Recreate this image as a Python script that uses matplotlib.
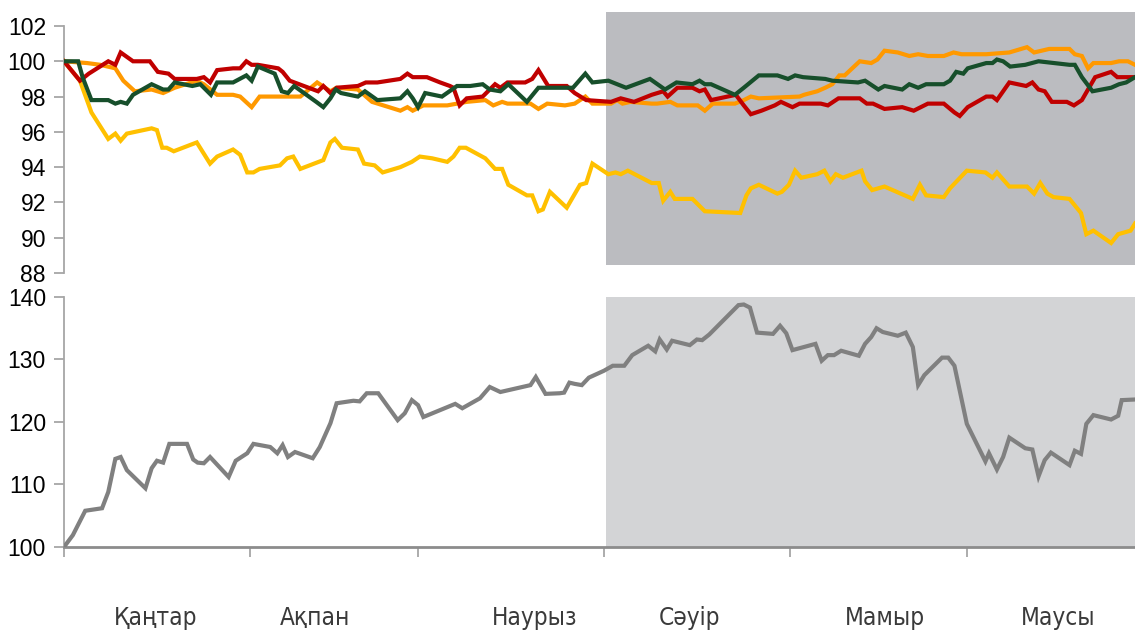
import matplotlib
matplotlib.use("Agg")
import matplotlib.pyplot as plt
from matplotlib.patches import Rectangle

# ---- data (x = trading-day index from 1 Jan, y = index values) ----
months = ["Қаңтар", "Ақпан", "Наурыз", "Сәуір", "Мамыр", "Маусы"]
month_starts = [0, 21, 40, 61, 82, 102]
month_label_pos = [10.3, 28.4, 53.2, 70.7, 92.8, 112.3]
top_ticks = [88, 90, 92, 94, 96, 98, 100, 102]
bottom_ticks = [100, 110, 120, 130, 140]

gold_x = [0.0, 1.8, 3.1, 5.0, 5.8, 6.4, 7.1, 9.9, 10.5, 11.1, 11.6, 12.4, 15.0, 16.5, 17.3, 19.1, 19.9, 20.7,
          21.4, 22.1, 24.4, 25.2, 25.9, 26.7, 29.3, 30.1, 30.6, 31.4, 33.2, 33.9, 35.1, 36.0, 38.0, 39.3,
          40.2, 41.6, 43.3, 44.0, 44.7, 45.4, 47.6, 48.7, 49.5, 50.2, 52.3, 52.9, 53.6, 54.1, 54.9, 56.8,
          58.3, 59.0, 59.7, 61.5, 62.3, 62.9, 63.7, 66.4, 67.2, 67.7, 68.5, 69.0, 71.0, 72.4, 76.4, 77.1,
          77.6, 78.5, 80.6, 81.1, 81.9, 82.6, 83.3, 85.1, 85.9, 86.6, 87.2, 88.0, 90.1, 90.5, 91.3, 92.7,
          95.9, 96.7, 97.4, 99.4, 100.1, 102.0, 104.1, 104.9, 105.4, 106.8, 108.8, 109.6, 110.3, 111.1,
          111.8, 113.6, 114.9, 115.5, 116.3, 118.3, 119.1, 120.5, 121.0]
gold_y = [100.0, 98.9, 97.1, 95.6, 95.9, 95.5, 95.9, 96.2, 96.1, 95.1, 95.1, 94.9, 95.4, 94.2, 94.6, 95.0, 94.7, 93.7,
          93.7, 93.9, 94.1, 94.5, 94.6, 93.9, 94.4, 95.4, 95.6, 95.1, 95.0, 94.2, 94.1, 93.7, 94.0, 94.3,
          94.6, 94.5, 94.3, 94.6, 95.1, 95.1, 94.5, 93.9, 93.9, 93.0, 92.4, 92.4, 91.5, 91.6, 92.6, 91.7,
          93.0, 93.1, 94.2, 93.6, 93.7, 93.6, 93.8, 93.1, 93.1, 92.1, 92.6, 92.2, 92.2, 91.5, 91.4, 92.4,
          92.8, 93.0, 92.5, 92.6, 93.0, 93.8, 93.4, 93.6, 93.8, 93.2, 93.6, 93.4, 93.8, 93.2, 92.7, 92.9,
          92.2, 93.0, 92.4, 92.3, 92.8, 93.8, 93.7, 93.4, 93.7, 92.9, 92.9, 92.5, 93.1, 92.5,
          92.3, 92.2, 91.4, 90.2, 90.4, 89.7, 90.2, 90.4, 90.8]

red_x = [0.0, 1.8, 2.8, 5.0, 5.8, 6.4, 7.8, 9.7, 10.6, 11.8, 12.5, 15.0, 15.8, 16.5, 17.3, 19.1, 19.9, 20.6, 21.2,
         21.9, 24.2, 24.7, 25.5, 27.1, 28.7, 29.3, 30.1, 30.8, 33.2, 34.1, 35.4, 38.0, 38.8, 39.4, 41.0, 42.5,
         43.6, 44.0, 44.7, 45.5, 47.3, 48.7, 49.3, 50.1, 52.1, 52.9, 53.6, 54.7, 56.8, 57.7, 59.0, 61.8, 62.9,
         64.4, 66.4, 67.7, 68.2, 69.3, 71.0, 71.8, 72.4, 73.1, 75.9, 76.8, 77.6, 78.8, 80.3, 81.0, 82.3, 83.1,
         85.5, 86.3, 87.5, 88.0, 89.9, 90.7, 91.4, 92.7, 94.7, 96.0, 97.6, 99.4, 100.6, 101.2, 102.1, 104.2,
         104.9, 105.4, 106.8, 108.7, 109.4, 110.1, 110.8, 111.6, 113.3, 114.1, 115.0, 116.5, 118.3, 119.0, 121.0]
red_y = [100.0, 98.9, 99.3, 100.0, 99.8, 100.5, 100.0, 100.0, 99.4, 99.3, 99.0, 99.0, 99.1, 98.8, 99.5, 99.6, 99.6,
         100.0, 99.8, 99.8, 99.6, 99.4, 98.9, 98.6, 98.3, 98.6, 98.2, 98.5, 98.6, 98.8, 98.8, 99.0, 99.3, 99.1,
         99.1, 98.8, 98.6, 98.5, 97.5, 97.9, 98.0, 98.7, 98.5, 98.8, 98.8, 99.0, 99.5, 98.6, 98.6, 98.2, 97.8,
         97.7, 97.9, 97.7, 98.1, 98.3, 98.0, 98.5, 98.5, 98.3, 98.4, 97.8, 98.1, 97.5, 97.0, 97.2, 97.5, 97.7,
         97.4, 97.6, 97.6, 97.5, 97.9, 97.9, 97.9, 97.6, 97.6, 97.3, 97.4, 97.2, 97.6, 97.6, 97.1, 96.9, 97.4,
         98.0, 98.0, 97.8, 98.8, 98.6, 98.8, 98.4, 98.3, 97.7, 97.7, 97.5, 97.8, 99.1, 99.4, 99.1, 99.1]

green_x = [0.0, 1.6, 2.1, 3.1, 5.0, 5.8, 6.4, 7.1, 7.8, 9.9, 11.2, 11.8, 12.5, 14.5, 15.4, 16.6, 17.3, 19.1, 20.6,
           21.2, 21.9, 23.8, 24.6, 25.3, 26.0, 28.5, 29.3, 30.1, 30.7, 31.3, 33.2, 34.0, 35.4, 38.0, 38.8, 39.4,
           40.0, 40.8, 42.7, 44.4, 45.9, 47.3, 48.1, 49.3, 50.2, 52.3, 53.6, 57.5, 58.9, 59.7, 61.5, 63.5, 66.2,
           67.9, 69.2, 71.0, 71.8, 72.4, 73.1, 75.8, 76.8, 78.5, 80.6, 81.8, 82.6, 83.5, 86.0, 86.8, 89.7, 90.5,
           92.0, 92.7, 94.7, 95.5, 96.5, 97.4, 99.4, 100.1, 100.8, 101.6, 102.1, 104.2, 104.9, 105.4, 106.1,
           106.9, 108.6, 110.1, 113.6, 114.2, 115.0, 116.2, 118.3, 119.2, 120.0, 121.0]
green_y = [100.0, 100.0, 99.1, 97.8, 97.8, 97.6, 97.7, 97.6, 98.1, 98.7, 98.4, 98.4, 98.8, 98.6, 98.7, 98.1, 98.8,
           98.8, 99.2, 98.9, 99.7, 99.3, 98.3, 98.2, 98.6, 97.7, 97.4, 97.9, 98.4, 98.2, 98.0, 98.3, 97.8, 97.9,
           98.3, 97.9, 97.4, 98.2, 98.0, 98.6, 98.6, 98.7, 98.4, 98.3, 98.7, 97.7, 98.5, 98.5, 99.3, 98.8, 98.9,
           98.5, 99.0, 98.4, 98.8, 98.7, 98.9, 98.7, 98.7, 98.1, 98.5, 99.2, 99.2, 99.0, 99.2, 99.1, 99.0, 98.9,
           98.8, 98.9, 98.4, 98.6, 98.4, 98.7, 98.5, 98.7, 98.7, 98.9, 99.4, 99.3, 99.6, 99.9, 99.9, 100.1,
           100.0, 99.7, 99.8, 100.0, 99.8, 99.8, 99.1, 98.3, 98.5, 98.7, 98.8, 99.1]

orange_x = [0.0, 2.6, 4.1, 5.8, 6.7, 8.0, 9.9, 11.2, 12.5, 15.0, 15.8, 17.3, 19.1, 19.9, 21.2, 22.1, 26.7, 28.6,
            30.1, 30.8, 33.2, 34.8, 38.0, 38.8, 39.4, 40.6, 43.3, 45.5, 47.6, 48.5, 49.5, 50.1, 52.7, 53.6, 54.6,
            56.6, 57.7, 58.9, 59.7, 61.8, 62.5, 63.1, 64.0, 66.4, 67.0, 68.5, 69.3, 71.6, 72.4, 73.3, 75.8, 76.8,
            77.6, 78.5, 83.1, 83.6, 85.1, 86.0, 86.8, 87.6, 88.2, 89.9, 91.2, 91.9, 92.7, 94.2, 95.5, 96.5, 97.6,
            99.4, 100.5, 101.4, 104.2, 106.8, 108.8, 109.6, 111.3, 113.6, 114.2, 115.0, 115.7, 116.3, 118.3,
            119.2, 120.2, 121.0]
orange_y = [100.0, 99.9, 99.8, 99.6, 98.9, 98.3, 98.4, 98.2, 98.5, 98.9, 98.7, 98.1, 98.1, 98.0, 97.4, 98.0, 98.0,
            98.8, 98.3, 98.5, 98.4, 97.7, 97.2, 97.4, 97.2, 97.5, 97.5, 97.7, 97.8, 97.5, 97.7, 97.6, 97.6, 97.3,
            97.6, 97.5, 97.6, 98.0, 97.6, 97.6, 97.8, 97.6, 97.7, 97.6, 97.6, 97.7, 97.5, 97.5, 97.2, 97.6, 97.6,
            97.8, 98.0, 97.9, 98.0, 98.1, 98.3, 98.5, 98.7, 99.2, 99.2, 100.0, 99.9, 100.1, 100.6, 100.5, 100.3,
            100.4, 100.3, 100.3, 100.5, 100.4, 100.4, 100.5, 100.8, 100.5, 100.7, 100.7, 100.4, 100.3, 99.6,
            99.9, 99.9, 100.0, 100.0, 99.8]

index_x = [0.0, 1.0, 2.4, 4.3, 5.0, 5.8, 6.4, 7.1, 9.2, 9.9, 10.5, 11.2, 11.9, 13.9, 14.6, 15.1, 15.8, 16.5, 18.6,
           19.4, 20.7, 21.4, 23.3, 24.1, 24.7, 25.3, 26.1, 28.1, 28.9, 30.1, 30.8, 32.7, 33.4, 34.2, 35.5, 37.7,
           38.5, 39.3, 40.0, 40.6, 44.2, 45.0, 47.0, 48.1, 49.3, 52.7, 53.3, 54.4, 56.0, 56.5, 57.1, 57.7, 58.5,
           59.3, 61.0, 62.0, 63.3, 64.2, 66.0, 66.8, 67.3, 68.1, 68.7, 70.7, 71.5, 72.1, 72.9, 76.2, 76.8, 77.5,
           78.3, 80.1, 80.9, 81.6, 82.3, 84.9, 85.6, 86.3, 87.0, 87.8, 89.8, 90.5, 91.2, 91.8, 92.5, 94.2, 95.1,
           95.9, 96.5, 97.2, 99.2, 99.9, 100.6, 102.0, 104.1, 104.5, 105.4, 106.1, 106.8, 108.6, 109.4, 110.1,
           110.8, 111.5, 113.6, 114.2, 114.9, 115.5, 116.3, 118.3, 119.1, 119.5, 121.0]
index_y = [100.0, 101.9, 105.8, 106.2, 108.8, 114.1, 114.4, 112.3, 109.4, 112.6, 113.8, 113.5, 116.5, 116.5, 114.0,
           113.5, 113.4, 114.4, 111.2, 113.8, 115.0, 116.5, 116.0, 115.0, 116.3, 114.4, 115.2, 114.2, 116.0,
           119.8, 123.0, 123.4, 123.3, 124.6, 124.6, 120.3, 121.4, 123.5, 122.7, 120.8, 122.9, 122.2, 123.8,
           125.6, 124.8, 125.9, 127.2, 124.5, 124.6, 124.7, 126.3, 126.1, 125.9, 127.1, 128.2, 129.0, 129.0,
           130.7, 132.2, 131.3, 133.2, 131.6, 133.0, 132.3, 133.2, 133.1, 134.0, 138.7, 138.8, 138.3, 134.3,
           134.1, 135.4, 134.2, 131.5, 132.5, 129.8, 130.7, 130.7, 131.4, 130.6, 132.5, 133.6, 135.0, 134.4,
           133.8, 134.3, 132.0, 125.9, 127.5, 130.3, 130.3, 129.0, 119.7, 113.7, 115.0, 112.4, 114.4, 117.5,
           115.8, 115.6, 111.3, 113.9, 115.1, 113.1, 115.4, 114.9, 119.7, 121.1, 120.4, 121.0, 123.5, 123.6]

# ---- layout ----
W, H = 1135, 631
fig = plt.figure(figsize=(W / 100, H / 100), dpi=100)
fig.patch.set_facecolor("white")

def px_rect(x0, y0, x1, y1):
    return [x0 / W, 1 - y1 / H, (x1 - x0) / W, (y1 - y0) / H]

ax1 = fig.add_axes(px_rect(64, 26, 1135, 273))
ax2 = fig.add_axes(px_rect(64, 297, 1135, 547))

spine_col = "#A6A6A6"
tick_font = dict(family=["Liberation Sans", "DejaVu Sans"], size=16.5)
shade_start = 61.2

# top panel shading (extends slightly beyond the axis)
ax1.add_patch(Rectangle((shade_start, 88.45), 121 - shade_start, 102.8 - 88.45,
                        facecolor="#BBBCC0", edgecolor="none", zorder=0, clip_on=False))
ax2.axvspan(shade_start, 121, facecolor="#D3D4D6", edgecolor="none", zorder=0)

lw = 3.0
ax1.plot(gold_x, gold_y, color="#FFC000", lw=lw, zorder=3, solid_joinstyle="miter")
ax1.plot(orange_x, orange_y, color="#FF9900", lw=lw, zorder=4, solid_joinstyle="miter")
ax1.plot(red_x, red_y, color="#C00000", lw=lw, zorder=5, solid_joinstyle="miter")
ax1.plot(green_x, green_y, color="#174F2B", lw=lw, zorder=6, solid_joinstyle="miter")
ax2.plot(index_x, index_y, color="#808080", lw=lw, zorder=3, solid_joinstyle="miter")

for ax in (ax1, ax2):
    ax.set_xlim(0, 121)
    ax.set_facecolor("none")
    for s in ("top", "right"):
        ax.spines[s].set_visible(False)
    ax.spines["left"].set_color(spine_col)
    ax.spines["left"].set_linewidth(1.3)
    ax.tick_params(axis="y", direction="out", length=7, width=1.3, color=spine_col, pad=6)

ax1.set_ylim(88, 102)
ax1.set_yticks(top_ticks)
ax1.set_yticklabels([str(t) for t in top_ticks], **tick_font)
ax1.spines["bottom"].set_visible(False)
ax1.set_xticks([])

ax2.set_ylim(100, 140)
ax2.set_yticks(bottom_ticks)
ax2.set_yticklabels([str(t) for t in bottom_ticks], **tick_font)
ax2.spines["bottom"].set_color("#8C8C8C")
ax2.spines["bottom"].set_linewidth(2.0)
ax2.set_xticks(month_starts)
ax2.set_xticklabels([])
ax2.tick_params(axis="x", direction="out", length=7, width=1.3, color=spine_col)

month_font = dict(family=["DejaVu Sans"], stretch="condensed", size=17.5)
for pos, name in zip(month_label_pos, months):
    ax2.text(pos, -0.285, name, transform=ax2.get_xaxis_transform(), ha="center", va="center",
             color="#3A3A3A", **month_font)

fig.savefig("out.png", dpi=100)
